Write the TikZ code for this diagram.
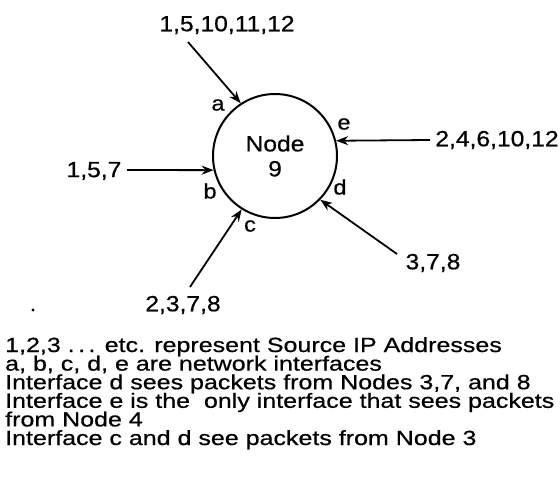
\documentclass[tikz,border=0pt]{standalone}
\usepackage{fontspec}
\setmainfont{Liberation Sans}
\newfontfamily\labelfamily{Liberation Sans}[FakeStretch=1.12,FakeBold=0.6]
\newfontfamily\notefamily{Liberation Sans}[FakeStretch=1.22,FakeBold=0.6]
\usetikzlibrary{arrows.meta}
\begin{document}
\begin{tikzpicture}[x=1pt,y=-1pt,
  iface/.style={font=\labelfamily\fontsize{21}{21}\selectfont, inner sep=0pt},
  srclist/.style={font=\labelfamily\fontsize{22}{22}\selectfont, inner sep=0pt},
  noteline/.style={font=\notefamily\fontsize{20.5}{20.5}\selectfont, anchor=base west, inner sep=0pt},
  feed/.style={line width=1.8pt, -{Stealth[length=12pt,width=9pt]}}]
  \useasboundingbox (0,0) rectangle (560,487);

  % the node and its five interfaces
  \node[circle, draw, line width=2pt, minimum size=124pt, inner sep=0pt,
        align=center, font=\labelfamily\fontsize{22}{25}\selectfont] (hub) at (275,156) {Node\\9};
  \node[iface] (ia) at (218,105) {a};
  \node[iface] (ie) at (344,124) {e};
  \node[iface] (ib) at (210,191) {b};
  \node[iface] (id) at (340,187) {d};
  \node[iface] (ic) at (250,226) {c};

  % source address lists
  \node[srclist] (sa) at (227,25) {1,5,10,11,12};
  \node[srclist] (sb) at (94,171) {1,5,7};
  \node[srclist] (se) at (497,140) {2,4,6,10,12};
  \node[srclist] (sd) at (433,263) {3,7,8};
  \node[srclist] (sc) at (183,305) {2,3,7,8};

  % tails of the incoming arrows
  \coordinate (ta) at (188,42);
  \coordinate (tb) at (127,170);
  \coordinate (te) at (430,140);
  \coordinate (td) at (397,254);
  \coordinate (tc) at (190,287);

  \draw[feed] (ta) -- (hub.123.5);
  \draw[feed] (tb) -- (hub.193);
  \draw[feed] (te) -- (hub.14.5);
  \draw[feed] (td) -- (hub.-44.4);
  \draw[feed] (tc) -- (hub.238.6);

  % small mark left of the lower list
  \fill (33,310) circle (1.6pt);

  % notes
  \node[noteline] (n1) at (5,352) {1,2,3 .\,.\,. etc. represent Source IP Addresses};
  \node[noteline] (n2) at (5,370.6) {a, b, c, d, e are network interfaces};
  \node[noteline] (n3) at (5,389.2) {Interface d sees packets from Nodes 3,7, and 8};
  \node[noteline] (n4) at (5,407.8) {Interface e is the \ only interface that sees packets};
  \node[noteline] (n5) at (5,426.4) {from Node 4};
  \node[noteline] (n6) at (5,445) {Interface c and d see packets from Node 3};
\end{tikzpicture}
\end{document}
